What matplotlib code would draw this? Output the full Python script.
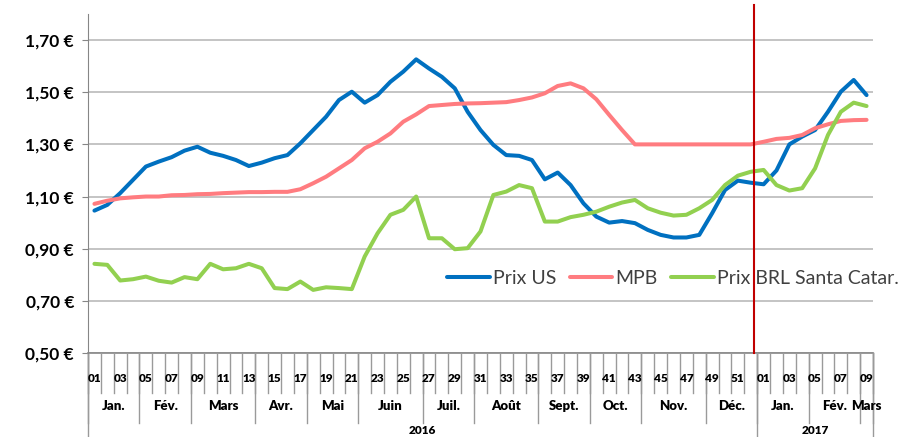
import numpy as np
import matplotlib
matplotlib.use('Agg')
import matplotlib.pyplot as plt
from matplotlib.lines import Line2D
from matplotlib.transforms import blended_transform_factory

plt.rcParams['font.family'] = ['Lato', 'DejaVu Sans']

# weekly prices, week 01/2016 to week 09/2017
weeks = list(range(1, 53)) + list(range(1, 10))

prix_us = [1.046, 1.068, 1.113, 1.164, 1.215, 1.234, 1.251, 1.276, 1.291, 1.268,
           1.256, 1.240, 1.217, 1.230, 1.247, 1.259, 1.304, 1.355, 1.406, 1.470,
           1.502, 1.460, 1.489, 1.540, 1.579, 1.626, 1.591, 1.559, 1.515, 1.425,
           1.355, 1.298, 1.259, 1.256, 1.240, 1.166, 1.192, 1.144, 1.074, 1.023,
           1.000, 1.006, 0.998, 0.972, 0.953, 0.943, 0.943, 0.953, 1.036, 1.125,
           1.161, 1.153, 1.147, 1.200, 1.300, 1.330, 1.355, 1.425, 1.502, 1.547,
           1.489]

mpb = [1.072, 1.084, 1.093, 1.097, 1.100, 1.100, 1.105, 1.106, 1.109, 1.110,
       1.113, 1.115, 1.117, 1.117, 1.118, 1.118, 1.128, 1.151, 1.176, 1.208,
       1.240, 1.285, 1.310, 1.342, 1.387, 1.415, 1.447, 1.451, 1.455, 1.457,
       1.458, 1.460, 1.462, 1.470, 1.480, 1.496, 1.524, 1.534, 1.515, 1.473,
       1.413, 1.355, 1.300, 1.300, 1.300, 1.300, 1.300, 1.300, 1.300, 1.300,
       1.300, 1.300, 1.310, 1.321, 1.325, 1.336, 1.362, 1.377, 1.390, 1.393,
       1.394]

prix_brl = [0.842, 0.838, 0.778, 0.783, 0.793, 0.777, 0.770, 0.791, 0.783, 0.842,
            0.821, 0.825, 0.842, 0.825, 0.749, 0.745, 0.774, 0.742, 0.752, 0.749,
            0.745, 0.870, 0.959, 1.030, 1.049, 1.100, 0.940, 0.940, 0.898, 0.902,
            0.966, 1.106, 1.119, 1.144, 1.132, 1.004, 1.004, 1.021, 1.030, 1.042,
            1.061, 1.077, 1.087, 1.055, 1.038, 1.027, 1.030, 1.055, 1.087, 1.144,
            1.180, 1.195, 1.202, 1.144, 1.123, 1.132, 1.208, 1.336, 1.425, 1.460,
            1.447]

months = ['Jan.', 'Fév.', 'Mars', 'Avr.', 'Mai', 'Juin', 'Juil.', 'Août', 'Sept.',
          'Oct.', 'Nov.', 'Déc.', 'Jan.', 'Fév.', 'Mars']
month_weeks = [4, 4, 5, 4, 4, 5, 4, 5, 4, 4, 5, 4, 4, 4, 1]

years = ['2016', '2017']
year_weeks = [52, 9]

# week where the red marker line sits (between 2016 and 2017)
marker_pos = 51.25

series = [
    ('Prix US', prix_us, '#0070c0'),
    ('MPB', mpb, '#ff7c80'),
    ('Prix BRL Santa Catar.', prix_brl, '#92d050'),
]

fig = plt.figure(figsize=(9.1, 4.37), dpi=100)
ax = fig.add_axes([88 / 910, 1 - 353 / 437, 785 / 910, 339 / 437])

x = np.arange(len(weeks))
for label, values, color in series:
    ax.plot(x, values, color=color, lw=2.9, label=label, solid_capstyle='round')

ax.set_xlim(-0.5, len(weeks) - 0.5)
ax.set_ylim(0.5, 1.8)
yticks = [0.5, 0.7, 0.9, 1.1, 1.3, 1.5, 1.7]
ax.set_yticks(yticks)
ax.set_yticklabels(['{:.2f} €'.format(v).replace('.', ',') for v in yticks],
                   fontsize=12.5, fontweight='bold')
ax.tick_params(axis='y', length=4, color='#868686', pad=6)
ax.set_xticks([])
ax.yaxis.grid(True, color='#bfbfbf', lw=1.3)
ax.set_axisbelow(True)
for side in ['top', 'right', 'bottom']:
    ax.spines[side].set_visible(False)
ax.spines['left'].set_color('#868686')

# red marker line at the turn of the year
ax.add_line(Line2D([marker_pos, marker_pos], [0.5, 1.835], color='#c00000',
                   lw=1.5, clip_on=False, zorder=5))

# multi-level category axis
trans = blended_transform_factory(ax.transData, ax.transAxes)
sep_color = '#9a9a9a'
ax.add_line(Line2D([-0.5, len(weeks) - 0.5], [0, 0], transform=trans,
                   color='#868686', lw=1.2, clip_on=False))

row1, row2, row3 = -0.118, -0.206, -0.25
for b in range(len(weeks) + 1):
    ax.add_line(Line2D([b - 0.5, b - 0.5], [0, row1], transform=trans,
                       color=sep_color, lw=1, clip_on=False))
for i, w in enumerate(weeks):
    if w % 2 == 1:
        ax.text(i, -0.074, '{:02d}'.format(w), transform=trans, ha='center',
                va='center', fontsize=8.5, fontweight='heavy')

start = 0
for name, n in zip(months, month_weeks):
    ax.add_line(Line2D([start - 0.5, start - 0.5], [0, row2], transform=trans,
                       color=sep_color, lw=1, clip_on=False))
    ax.text(start + (n - 1) / 2, -0.157, name, transform=trans, ha='center',
            va='center', fontsize=9.5, fontweight='heavy')
    start += n
ax.add_line(Line2D([start - 0.5, start - 0.5], [0, row2], transform=trans,
                   color=sep_color, lw=1, clip_on=False))

start = 0
for name, n in zip(years, year_weeks):
    ax.add_line(Line2D([start - 0.5, start - 0.5], [0, row3], transform=trans,
                       color=sep_color, lw=1, clip_on=False))
    ax.text(start + (n - 1) / 2, -0.228, name, transform=trans, ha='center',
            va='center', fontsize=8.5, fontweight='heavy')
    start += n
ax.add_line(Line2D([start - 0.5, start - 0.5], [0, row3], transform=trans,
                   color=sep_color, lw=1, clip_on=False))

leg = ax.legend(loc='center left', bbox_to_anchor=(447 / 910, 1 - 278 / 437),
                bbox_transform=fig.transFigure, ncol=3, frameon=False,
                fontsize=14, handlelength=2.2, handletextpad=0.15,
                columnspacing=0.7, borderpad=0, borderaxespad=0)
for t in leg.get_texts():
    t.set_color('#404040')

fig.savefig('out.png', dpi=100)
